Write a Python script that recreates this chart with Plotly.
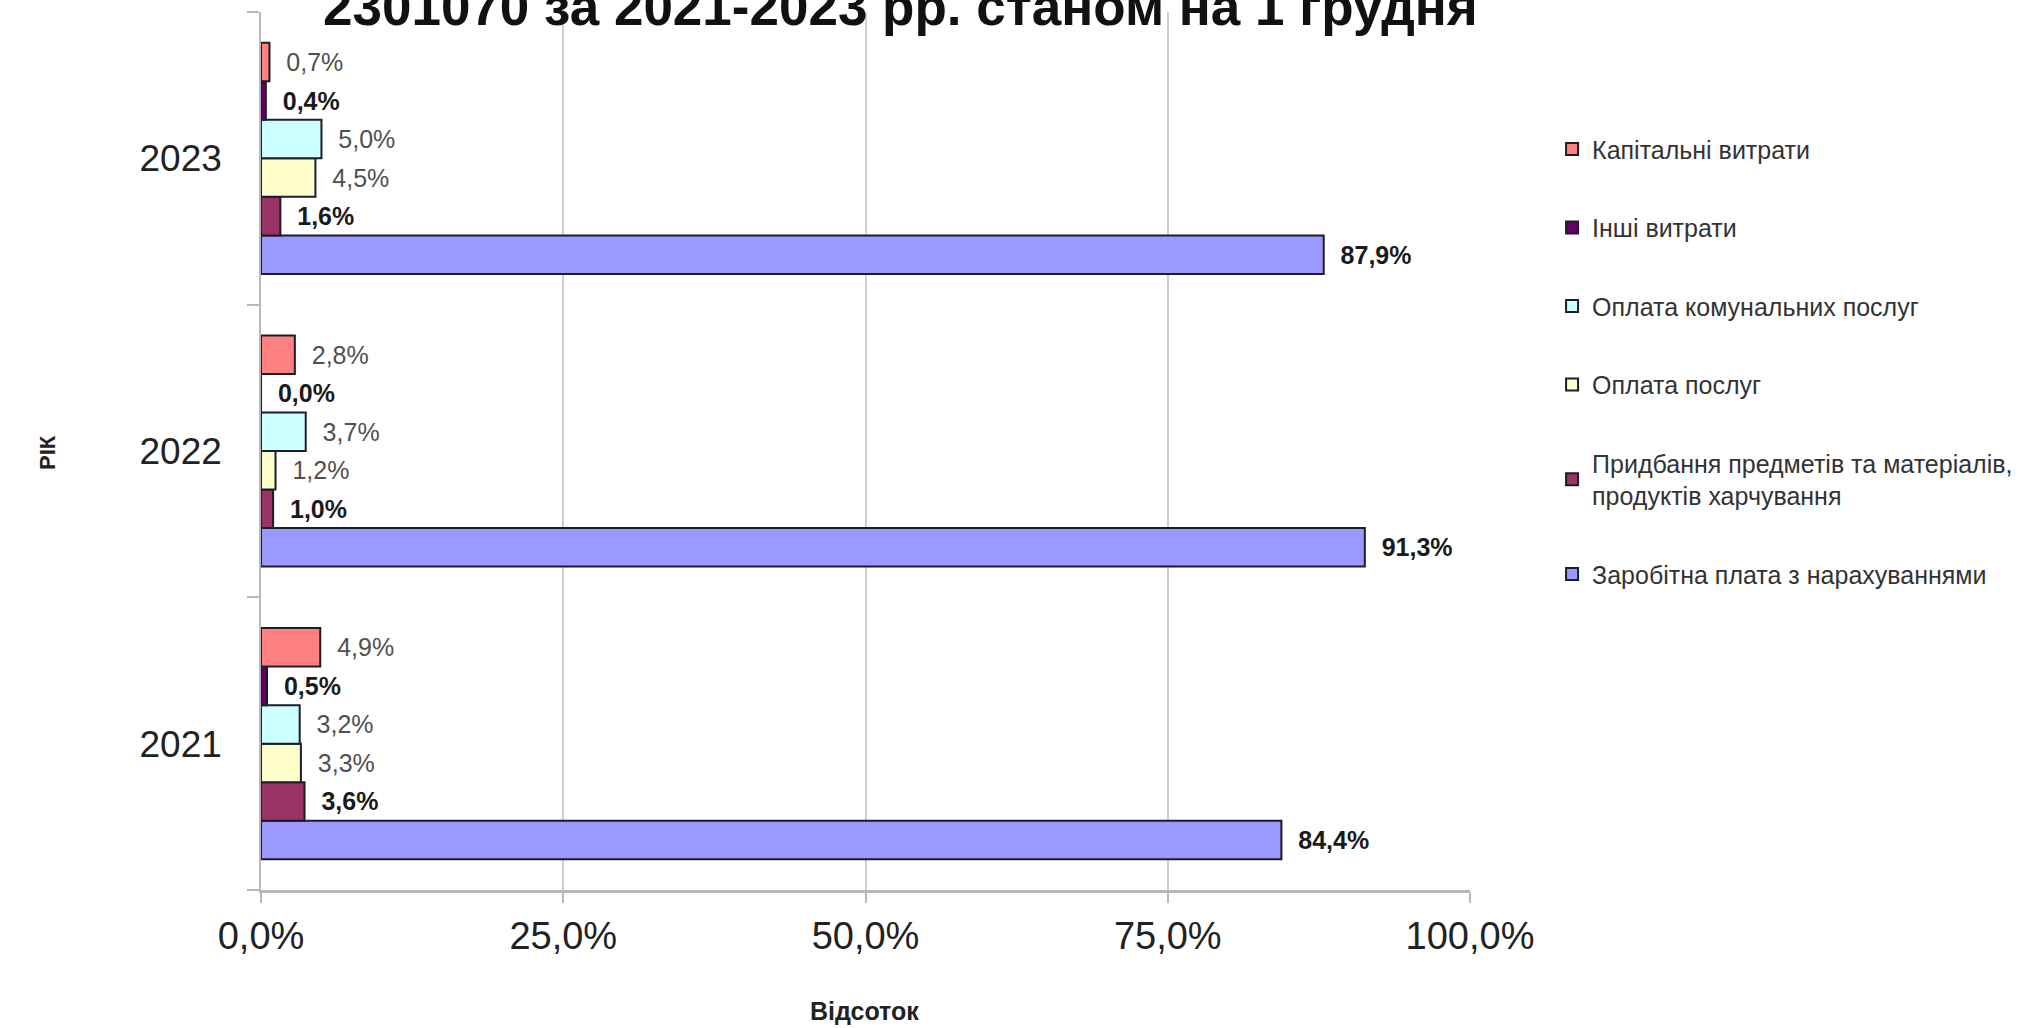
import plotly.graph_objects as go

# Years on the category axis (bottom to top)
years = ["2021", "2022", "2023"]

# Expense shares, % of total, per year (2021, 2022, 2023)
salary = [84.4, 91.3, 87.9]
materials = [3.6, 1.0, 1.6]
services = [3.3, 1.2, 4.5]
utilities = [3.2, 3.7, 5.0]
other = [0.5, 0.0, 0.4]
capital = [4.9, 2.8, 0.7]

series_names = [
    "Заробітна плата з нарахуваннями",
    "Придбання предметів та матеріалів,<br>продуктів харчування",
    "Оплата послуг",
    "Оплата комунальних послуг",
    "Інші витрати",
    "Капітальні витрати",
]
series_values = [salary, materials, services, utilities, other, capital]
series_colors = ["#9999FF", "#993366", "#FFFFCC", "#CCFFFF", "#660066", "#FF8080"]
bold_labels = [True, True, False, False, True, False]

x_ticks = [0, 25, 50, 75, 100]
x_tick_text = ["0,0%", "25,0%", "50,0%", "75,0%", "100,0%"]

FONT = "Liberation Sans, Arial, sans-serif"


def fmt(v):
    return "\u00a0\u00a0" + f"{v:.1f}".replace(".", ",") + "%"


fig = go.Figure()
n = len(series_names)
for i, (name, vals, col, bold) in enumerate(zip(series_names, series_values, series_colors, bold_labels)):
    labels = [("<b>" + fmt(v) + "</b>") if bold else fmt(v) for v in vals]
    fig.add_trace(go.Bar(
        y=years,
        x=vals,
        name=name,
        orientation="h",
        legendgroup=f"g{i}",
        legendrank=n - i,  # legend lists series top-down as the bars appear
        marker=dict(color=col, line=dict(color="#1c1c2c", width=2)),
        text=labels,
        textposition="outside",
        textfont=dict(family=FONT, size=25, color="#1a1a1a" if bold else "#505050"),
        constraintext="none",
        cliponaxis=False,
        hoverinfo="x+name",
    ))

fig.update_layout(
    width=2029,
    height=1028,
    margin=dict(l=261, r=558, t=12, b=138, pad=0),
    paper_bgcolor="white",
    plot_bgcolor="white",
    barmode="group",
    bargap=0.21,
    bargroupgap=0,
    font=dict(family=FONT, color="#222"),
    legend=dict(
        x=1.067, xanchor="left",
        y=0.870, yanchor="top",
        traceorder="grouped",
        tracegroupgap=43,
        font=dict(family=FONT, size=25, color="#333"),
        bgcolor="rgba(0,0,0,0)",
        itemclick=False,
    ),
    showlegend=True,
)

fig.update_xaxes(
    range=[0, 100],
    tickvals=x_ticks,
    ticktext=x_tick_text,
    tickfont=dict(family=FONT, size=38, color="#222"),
    showgrid=True,
    gridcolor="#cfcfcf",
    gridwidth=1.5,
    zeroline=False,
    showline=True,
    linecolor="#b8b8b8",
    linewidth=3,
    ticks="outside",
    ticklen=10,
    tickcolor="#b8b8b8",
    tickwidth=1.5,
)

fig.update_yaxes(
    type="category",
    categoryorder="array",
    categoryarray=years,
    tickfont=dict(family=FONT, size=37, color="#222"),
    showgrid=False,
    zeroline=False,
    showline=True,
    linecolor="#b8b8b8",
    linewidth=1.5,
    ticks="outside",
    tickson="boundaries",
    ticklen=12,
    tickcolor="#b8b8b8",
    tickwidth=1.5,
    ticklabelstandoff=30,
)

# Chart title line, axis titles
fig.add_annotation(
    text="<b>2301070 за 2021-2023 рр. станом на 1 грудня</b>",
    xref="paper", yref="paper", x=0.529, y=1, xanchor="center", yanchor="middle",
    yshift=6, showarrow=False,
    font=dict(family=FONT, size=53, color="#111"),
)
fig.add_annotation(
    text="<b>РІК</b>",
    xref="paper", yref="paper", x=-0.176, y=0.498, xanchor="center", yanchor="middle",
    textangle=-90, showarrow=False,
    font=dict(family=FONT, size=22, color="#222"),
)
fig.add_annotation(
    text="<b>Відсоток</b>",
    xref="paper", yref="paper", x=0.499, y=-0.138, xanchor="center", yanchor="middle",
    showarrow=False,
    font=dict(family=FONT, size=25, color="#222"),
)

fig.write_html("out.html")
